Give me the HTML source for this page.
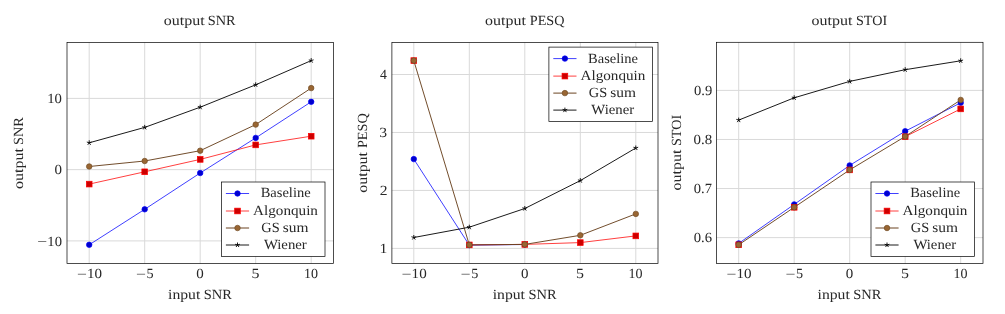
<!DOCTYPE html>
<html><head><meta charset="utf-8"><title>plots</title>
<style>
html,body{margin:0;padding:0;background:#fff;width:1005px;height:314px;overflow:hidden;}
svg{display:block;will-change:transform;font-family:"Liberation Serif", serif;}
text{fill:#282828;}
</style></head><body>
<svg width="1005" height="314" viewBox="0 0 1005 314" font-family='"Liberation Serif", serif' text-rendering="geometricPrecision" fill="#1a1a1a">
<rect width="1005" height="314" fill="#fff"/>
<line x1="89.20" y1="42.50" x2="89.20" y2="263.50" stroke="#d9d9d9" stroke-width="1"/>
<line x1="144.70" y1="42.50" x2="144.70" y2="263.50" stroke="#d9d9d9" stroke-width="1"/>
<line x1="200.20" y1="42.50" x2="200.20" y2="263.50" stroke="#d9d9d9" stroke-width="1"/>
<line x1="255.70" y1="42.50" x2="255.70" y2="263.50" stroke="#d9d9d9" stroke-width="1"/>
<line x1="311.20" y1="42.50" x2="311.20" y2="263.50" stroke="#d9d9d9" stroke-width="1"/>
<line x1="67.00" y1="98.40" x2="333.50" y2="98.40" stroke="#d9d9d9" stroke-width="1"/>
<line x1="67.00" y1="169.65" x2="333.50" y2="169.65" stroke="#d9d9d9" stroke-width="1"/>
<line x1="67.00" y1="240.90" x2="333.50" y2="240.90" stroke="#d9d9d9" stroke-width="1"/>
<polyline points="89.20,244.80 144.70,209.30 200.20,173.00 255.70,137.90 311.20,101.80" fill="none" stroke="#0000ff" stroke-width="0.75" stroke-linejoin="round"/>
<circle cx="89.20" cy="244.80" r="2.75" fill="#0000cc" stroke="#0000ff" stroke-width="0.7"/>
<circle cx="144.70" cy="209.30" r="2.75" fill="#0000cc" stroke="#0000ff" stroke-width="0.7"/>
<circle cx="200.20" cy="173.00" r="2.75" fill="#0000cc" stroke="#0000ff" stroke-width="0.7"/>
<circle cx="255.70" cy="137.90" r="2.75" fill="#0000cc" stroke="#0000ff" stroke-width="0.7"/>
<circle cx="311.20" cy="101.80" r="2.75" fill="#0000cc" stroke="#0000ff" stroke-width="0.7"/>
<polyline points="89.20,184.10 144.70,171.80 200.20,159.40 255.70,144.90 311.20,136.20" fill="none" stroke="#ff0000" stroke-width="0.75" stroke-linejoin="round"/>
<rect x="86.35" y="181.25" width="5.70" height="5.70" fill="#cc0000" stroke="#ff0000" stroke-width="0.7"/>
<rect x="141.85" y="168.95" width="5.70" height="5.70" fill="#cc0000" stroke="#ff0000" stroke-width="0.7"/>
<rect x="197.35" y="156.55" width="5.70" height="5.70" fill="#cc0000" stroke="#ff0000" stroke-width="0.7"/>
<rect x="252.85" y="142.05" width="5.70" height="5.70" fill="#cc0000" stroke="#ff0000" stroke-width="0.7"/>
<rect x="308.35" y="133.35" width="5.70" height="5.70" fill="#cc0000" stroke="#ff0000" stroke-width="0.7"/>
<polyline points="89.20,166.50 144.70,161.00 200.20,150.70 255.70,124.60 311.20,88.10" fill="none" stroke="#6a4321" stroke-width="0.95" stroke-linejoin="round"/>
<circle cx="89.20" cy="166.50" r="2.75" fill="#996633" stroke="#734d26" stroke-width="0.7"/>
<circle cx="144.70" cy="161.00" r="2.75" fill="#996633" stroke="#734d26" stroke-width="0.7"/>
<circle cx="200.20" cy="150.70" r="2.75" fill="#996633" stroke="#734d26" stroke-width="0.7"/>
<circle cx="255.70" cy="124.60" r="2.75" fill="#996633" stroke="#734d26" stroke-width="0.7"/>
<circle cx="311.20" cy="88.10" r="2.75" fill="#996633" stroke="#734d26" stroke-width="0.7"/>
<polyline points="89.20,142.80 144.70,127.40 200.20,107.20 255.70,84.80 311.20,60.60" fill="none" stroke="#000000" stroke-width="0.90" stroke-linejoin="round"/>
<path d="M89.20 142.80L89.20 140.30M89.20 142.80L86.82 142.03M89.20 142.80L87.73 144.82M89.20 142.80L90.67 144.82M89.20 142.80L91.58 142.03" stroke="#000000" stroke-width="0.9" fill="none"/>
<path d="M144.70 127.40L144.70 124.90M144.70 127.40L142.32 126.63M144.70 127.40L143.23 129.42M144.70 127.40L146.17 129.42M144.70 127.40L147.08 126.63" stroke="#000000" stroke-width="0.9" fill="none"/>
<path d="M200.20 107.20L200.20 104.70M200.20 107.20L197.82 106.43M200.20 107.20L198.73 109.22M200.20 107.20L201.67 109.22M200.20 107.20L202.58 106.43" stroke="#000000" stroke-width="0.9" fill="none"/>
<path d="M255.70 84.80L255.70 82.30M255.70 84.80L253.32 84.03M255.70 84.80L254.23 86.82M255.70 84.80L257.17 86.82M255.70 84.80L258.08 84.03" stroke="#000000" stroke-width="0.9" fill="none"/>
<path d="M311.20 60.60L311.20 58.10M311.20 60.60L308.82 59.83M311.20 60.60L309.73 62.62M311.20 60.60L312.67 62.62M311.20 60.60L313.58 59.83" stroke="#000000" stroke-width="0.9" fill="none"/>
<rect x="67.00" y="42.50" width="266.50" height="221.00" fill="none" stroke="#000" stroke-width="0.7"/>
<rect x="77.85" y="273.84" width="8.20" height="0.62" fill="#282828"/>
<text x="87.04" y="278.30" font-size="14.00" textLength="15.05" lengthAdjust="spacingAndGlyphs">10</text>
<rect x="136.90" y="273.84" width="8.20" height="0.62" fill="#282828"/>
<text x="146.58" y="278.30" font-size="14.00" textLength="7.08" lengthAdjust="spacingAndGlyphs">5</text>
<text x="196.36" y="278.30" font-size="14.00" textLength="7.48" lengthAdjust="spacingAndGlyphs">0</text>
<text x="251.43" y="278.30" font-size="14.00" textLength="7.95" lengthAdjust="spacingAndGlyphs">5</text>
<text x="303.88" y="278.30" font-size="14.00" textLength="14.03" lengthAdjust="spacingAndGlyphs">10</text>
<text x="47.22" y="103.20" font-size="14.00" textLength="14.71" lengthAdjust="spacingAndGlyphs">10</text>
<text x="54.46" y="174.45" font-size="14.00" textLength="7.48" lengthAdjust="spacingAndGlyphs">0</text>
<rect x="38.10" y="241.24" width="8.20" height="0.62" fill="#282828"/>
<text x="47.33" y="245.70" font-size="14.00" textLength="14.60" lengthAdjust="spacingAndGlyphs">10</text>
<text x="163.82" y="25.30" font-size="14.00" textLength="40.86" lengthAdjust="spacingAndGlyphs">output</text>
<text x="207.77" y="25.30" font-size="14.00" textLength="27.88" lengthAdjust="spacingAndGlyphs">SNR</text>
<text x="168.06" y="298.80" font-size="14.00" textLength="32.22" lengthAdjust="spacingAndGlyphs">input</text>
<text x="203.70" y="298.80" font-size="14.00" textLength="28.19" lengthAdjust="spacingAndGlyphs">SNR</text>
<text transform="translate(23.10 188.98) rotate(-90)" x="0" y="0" font-size="14.00" textLength="40.86" lengthAdjust="spacingAndGlyphs">output</text>
<text transform="translate(23.10 145.03) rotate(-90)" x="0" y="0" font-size="14.00" textLength="27.88" lengthAdjust="spacingAndGlyphs">SNR</text>
<rect x="221.50" y="182.00" width="103.50" height="74.50" fill="#fff" stroke="#000" stroke-width="0.7"/>
<line x1="225.90" y1="193.50" x2="249.10" y2="193.50" stroke="#0000ff" stroke-width="0.75"/>
<circle cx="237.50" cy="193.50" r="2.75" fill="#0000cc" stroke="#0000ff" stroke-width="0.7"/>
<text x="260.68" y="197.40" font-size="14.00" textLength="49.97" lengthAdjust="spacingAndGlyphs">Baseline</text>
<line x1="225.90" y1="211.00" x2="249.10" y2="211.00" stroke="#ff0000" stroke-width="0.75"/>
<rect x="234.65" y="208.15" width="5.70" height="5.70" fill="#cc0000" stroke="#ff0000" stroke-width="0.7"/>
<text x="253.09" y="214.90" font-size="14.00" textLength="64.87" lengthAdjust="spacingAndGlyphs">Algonquin</text>
<line x1="225.90" y1="228.00" x2="249.10" y2="228.00" stroke="#6a4321" stroke-width="1.00"/>
<circle cx="237.50" cy="228.00" r="2.75" fill="#996633" stroke="#734d26" stroke-width="0.7"/>
<text x="261.37" y="231.90" font-size="14.00" textLength="18.40" lengthAdjust="spacingAndGlyphs">GS</text>
<text x="282.83" y="231.90" font-size="14.00" textLength="25.70" lengthAdjust="spacingAndGlyphs">sum</text>
<line x1="225.90" y1="245.00" x2="249.10" y2="245.00" stroke="#000000" stroke-width="0.90"/>
<path d="M237.50 245.00L237.50 242.50M237.50 245.00L235.12 244.23M237.50 245.00L236.03 247.02M237.50 245.00L238.97 247.02M237.50 245.00L239.88 244.23" stroke="#000000" stroke-width="0.9" fill="none"/>
<text x="263.90" y="248.90" font-size="14.00" textLength="42.86" lengthAdjust="spacingAndGlyphs">Wiener</text>
<line x1="413.80" y1="42.60" x2="413.80" y2="263.50" stroke="#d9d9d9" stroke-width="1"/>
<line x1="469.30" y1="42.60" x2="469.30" y2="263.50" stroke="#d9d9d9" stroke-width="1"/>
<line x1="524.80" y1="42.60" x2="524.80" y2="263.50" stroke="#d9d9d9" stroke-width="1"/>
<line x1="580.30" y1="42.60" x2="580.30" y2="263.50" stroke="#d9d9d9" stroke-width="1"/>
<line x1="635.80" y1="42.60" x2="635.80" y2="263.50" stroke="#d9d9d9" stroke-width="1"/>
<line x1="391.90" y1="248.40" x2="658.00" y2="248.40" stroke="#d9d9d9" stroke-width="1"/>
<line x1="391.90" y1="190.43" x2="658.00" y2="190.43" stroke="#d9d9d9" stroke-width="1"/>
<line x1="391.90" y1="132.46" x2="658.00" y2="132.46" stroke="#d9d9d9" stroke-width="1"/>
<line x1="391.90" y1="74.49" x2="658.00" y2="74.49" stroke="#d9d9d9" stroke-width="1"/>
<polyline points="413.80,159.10 469.30,245.15 524.80,244.50" fill="none" stroke="#0000ff" stroke-width="0.75" stroke-linejoin="round"/>
<circle cx="413.80" cy="159.10" r="2.75" fill="#0000cc" stroke="#0000ff" stroke-width="0.7"/>
<circle cx="469.30" cy="245.15" r="2.75" fill="#0000cc" stroke="#0000ff" stroke-width="0.7"/>
<circle cx="524.80" cy="244.50" r="2.75" fill="#0000cc" stroke="#0000ff" stroke-width="0.7"/>
<polyline points="469.30,244.90 524.80,244.40 580.30,242.60 635.80,235.90" fill="none" stroke="#ff0000" stroke-width="0.75" stroke-linejoin="round"/>
<rect x="410.95" y="57.75" width="5.70" height="5.70" fill="#cc0000" stroke="#ff0000" stroke-width="0.7"/>
<rect x="466.45" y="242.05" width="5.70" height="5.70" fill="#cc0000" stroke="#ff0000" stroke-width="0.7"/>
<rect x="521.95" y="241.55" width="5.70" height="5.70" fill="#cc0000" stroke="#ff0000" stroke-width="0.7"/>
<rect x="577.45" y="239.75" width="5.70" height="5.70" fill="#cc0000" stroke="#ff0000" stroke-width="0.7"/>
<rect x="632.95" y="233.05" width="5.70" height="5.70" fill="#cc0000" stroke="#ff0000" stroke-width="0.7"/>
<polyline points="413.80,60.60 469.30,244.90 524.80,244.40 580.30,235.30 635.80,213.90" fill="none" stroke="#6a4321" stroke-width="0.95" stroke-linejoin="round"/>
<circle cx="413.80" cy="60.60" r="2.75" fill="#996633" stroke="#734d26" stroke-width="0.7"/>
<circle cx="469.30" cy="244.90" r="2.75" fill="#996633" stroke="#734d26" stroke-width="0.7"/>
<circle cx="524.80" cy="244.40" r="2.75" fill="#996633" stroke="#734d26" stroke-width="0.7"/>
<circle cx="580.30" cy="235.30" r="2.75" fill="#996633" stroke="#734d26" stroke-width="0.7"/>
<circle cx="635.80" cy="213.90" r="2.75" fill="#996633" stroke="#734d26" stroke-width="0.7"/>
<polyline points="413.80,237.50 469.30,227.20 524.80,208.50 580.30,180.60 635.80,148.00" fill="none" stroke="#000000" stroke-width="0.90" stroke-linejoin="round"/>
<path d="M413.80 237.50L413.80 235.00M413.80 237.50L411.42 236.73M413.80 237.50L412.33 239.52M413.80 237.50L415.27 239.52M413.80 237.50L416.18 236.73" stroke="#000000" stroke-width="0.9" fill="none"/>
<path d="M469.30 227.20L469.30 224.70M469.30 227.20L466.92 226.43M469.30 227.20L467.83 229.22M469.30 227.20L470.77 229.22M469.30 227.20L471.68 226.43" stroke="#000000" stroke-width="0.9" fill="none"/>
<path d="M524.80 208.50L524.80 206.00M524.80 208.50L522.42 207.73M524.80 208.50L523.33 210.52M524.80 208.50L526.27 210.52M524.80 208.50L527.18 207.73" stroke="#000000" stroke-width="0.9" fill="none"/>
<path d="M580.30 180.60L580.30 178.10M580.30 180.60L577.92 179.83M580.30 180.60L578.83 182.62M580.30 180.60L581.77 182.62M580.30 180.60L582.68 179.83" stroke="#000000" stroke-width="0.9" fill="none"/>
<path d="M635.80 148.00L635.80 145.50M635.80 148.00L633.42 147.23M635.80 148.00L634.33 150.02M635.80 148.00L637.27 150.02M635.80 148.00L638.18 147.23" stroke="#000000" stroke-width="0.9" fill="none"/>
<rect x="391.90" y="42.60" width="266.10" height="220.90" fill="none" stroke="#000" stroke-width="0.7"/>
<rect x="402.45" y="273.84" width="8.20" height="0.62" fill="#282828"/>
<text x="411.64" y="278.30" font-size="14.00" textLength="15.05" lengthAdjust="spacingAndGlyphs">10</text>
<rect x="461.50" y="273.84" width="8.20" height="0.62" fill="#282828"/>
<text x="471.18" y="278.30" font-size="14.00" textLength="7.08" lengthAdjust="spacingAndGlyphs">5</text>
<text x="520.96" y="278.30" font-size="14.00" textLength="7.48" lengthAdjust="spacingAndGlyphs">0</text>
<text x="576.03" y="278.30" font-size="14.00" textLength="7.95" lengthAdjust="spacingAndGlyphs">5</text>
<text x="628.48" y="278.30" font-size="14.00" textLength="14.03" lengthAdjust="spacingAndGlyphs">10</text>
<text x="379.63" y="253.20" font-size="14.00" textLength="7.89" lengthAdjust="spacingAndGlyphs">1</text>
<text x="379.72" y="195.23" font-size="14.00" textLength="7.78" lengthAdjust="spacingAndGlyphs">2</text>
<text x="379.30" y="137.26" font-size="14.00" textLength="7.87" lengthAdjust="spacingAndGlyphs">3</text>
<text x="379.90" y="79.29" font-size="14.00" textLength="6.90" lengthAdjust="spacingAndGlyphs">4</text>
<text x="485.12" y="25.30" font-size="14.00" textLength="40.76" lengthAdjust="spacingAndGlyphs">output</text>
<text x="529.79" y="25.30" font-size="14.00" textLength="34.76" lengthAdjust="spacingAndGlyphs">PESQ</text>
<text x="492.76" y="298.80" font-size="14.00" textLength="32.22" lengthAdjust="spacingAndGlyphs">input</text>
<text x="528.40" y="298.80" font-size="14.00" textLength="28.19" lengthAdjust="spacingAndGlyphs">SNR</text>
<text transform="translate(366.70 192.73) rotate(-90)" x="0" y="0" font-size="14.00" textLength="40.76" lengthAdjust="spacingAndGlyphs">output</text>
<text transform="translate(366.70 148.06) rotate(-90)" x="0" y="0" font-size="14.00" textLength="34.76" lengthAdjust="spacingAndGlyphs">PESQ</text>
<rect x="548.90" y="47.10" width="103.50" height="74.50" fill="#fff" stroke="#000" stroke-width="0.7"/>
<line x1="553.30" y1="58.60" x2="576.50" y2="58.60" stroke="#0000ff" stroke-width="0.75"/>
<circle cx="564.90" cy="58.60" r="2.75" fill="#0000cc" stroke="#0000ff" stroke-width="0.7"/>
<text x="588.08" y="62.50" font-size="14.00" textLength="49.97" lengthAdjust="spacingAndGlyphs">Baseline</text>
<line x1="553.30" y1="76.10" x2="576.50" y2="76.10" stroke="#ff0000" stroke-width="0.75"/>
<rect x="562.05" y="73.25" width="5.70" height="5.70" fill="#cc0000" stroke="#ff0000" stroke-width="0.7"/>
<text x="580.49" y="80.00" font-size="14.00" textLength="64.87" lengthAdjust="spacingAndGlyphs">Algonquin</text>
<line x1="553.30" y1="93.10" x2="576.50" y2="93.10" stroke="#6a4321" stroke-width="1.00"/>
<circle cx="564.90" cy="93.10" r="2.75" fill="#996633" stroke="#734d26" stroke-width="0.7"/>
<text x="588.77" y="97.00" font-size="14.00" textLength="18.40" lengthAdjust="spacingAndGlyphs">GS</text>
<text x="610.23" y="97.00" font-size="14.00" textLength="25.70" lengthAdjust="spacingAndGlyphs">sum</text>
<line x1="553.30" y1="110.10" x2="576.50" y2="110.10" stroke="#000000" stroke-width="0.90"/>
<path d="M564.90 110.10L564.90 107.60M564.90 110.10L562.52 109.33M564.90 110.10L563.43 112.12M564.90 110.10L566.37 112.12M564.90 110.10L567.28 109.33" stroke="#000000" stroke-width="0.9" fill="none"/>
<text x="591.30" y="114.00" font-size="14.00" textLength="42.86" lengthAdjust="spacingAndGlyphs">Wiener</text>
<line x1="738.70" y1="42.30" x2="738.70" y2="263.50" stroke="#d9d9d9" stroke-width="1"/>
<line x1="794.20" y1="42.30" x2="794.20" y2="263.50" stroke="#d9d9d9" stroke-width="1"/>
<line x1="849.70" y1="42.30" x2="849.70" y2="263.50" stroke="#d9d9d9" stroke-width="1"/>
<line x1="905.20" y1="42.30" x2="905.20" y2="263.50" stroke="#d9d9d9" stroke-width="1"/>
<line x1="960.70" y1="42.30" x2="960.70" y2="263.50" stroke="#d9d9d9" stroke-width="1"/>
<line x1="716.50" y1="237.61" x2="983.00" y2="237.61" stroke="#d9d9d9" stroke-width="1"/>
<line x1="716.50" y1="188.54" x2="983.00" y2="188.54" stroke="#d9d9d9" stroke-width="1"/>
<line x1="716.50" y1="139.47" x2="983.00" y2="139.47" stroke="#d9d9d9" stroke-width="1"/>
<line x1="716.50" y1="90.40" x2="983.00" y2="90.40" stroke="#d9d9d9" stroke-width="1"/>
<polyline points="738.70,243.40 794.20,204.40 849.70,165.40 905.20,131.20 960.70,102.80" fill="none" stroke="#0000ff" stroke-width="0.75" stroke-linejoin="round"/>
<circle cx="738.70" cy="243.40" r="2.75" fill="#0000cc" stroke="#0000ff" stroke-width="0.7"/>
<circle cx="794.20" cy="204.40" r="2.75" fill="#0000cc" stroke="#0000ff" stroke-width="0.7"/>
<circle cx="849.70" cy="165.40" r="2.75" fill="#0000cc" stroke="#0000ff" stroke-width="0.7"/>
<circle cx="905.20" cy="131.20" r="2.75" fill="#0000cc" stroke="#0000ff" stroke-width="0.7"/>
<circle cx="960.70" cy="102.80" r="2.75" fill="#0000cc" stroke="#0000ff" stroke-width="0.7"/>
<polyline points="905.20,136.70 960.70,108.90" fill="none" stroke="#ff0000" stroke-width="0.75" stroke-linejoin="round"/>
<rect x="735.85" y="241.95" width="5.70" height="5.70" fill="#cc0000" stroke="#ff0000" stroke-width="0.7"/>
<rect x="791.35" y="204.45" width="5.70" height="5.70" fill="#cc0000" stroke="#ff0000" stroke-width="0.7"/>
<rect x="846.85" y="167.05" width="5.70" height="5.70" fill="#cc0000" stroke="#ff0000" stroke-width="0.7"/>
<rect x="902.35" y="133.85" width="5.70" height="5.70" fill="#cc0000" stroke="#ff0000" stroke-width="0.7"/>
<rect x="957.85" y="106.05" width="5.70" height="5.70" fill="#cc0000" stroke="#ff0000" stroke-width="0.7"/>
<polyline points="738.70,244.80 794.20,207.30 849.70,169.90 905.20,136.50 960.70,99.90" fill="none" stroke="#6a4321" stroke-width="0.95" stroke-linejoin="round"/>
<circle cx="738.70" cy="244.80" r="2.75" fill="#996633" stroke="#734d26" stroke-width="0.7"/>
<circle cx="794.20" cy="207.30" r="2.75" fill="#996633" stroke="#734d26" stroke-width="0.7"/>
<circle cx="849.70" cy="169.90" r="2.75" fill="#996633" stroke="#734d26" stroke-width="0.7"/>
<circle cx="905.20" cy="136.50" r="2.75" fill="#996633" stroke="#734d26" stroke-width="0.7"/>
<circle cx="960.70" cy="99.90" r="2.75" fill="#996633" stroke="#734d26" stroke-width="0.7"/>
<polyline points="738.70,120.10 794.20,97.80 849.70,81.40 905.20,69.70 960.70,60.80" fill="none" stroke="#000000" stroke-width="0.90" stroke-linejoin="round"/>
<path d="M738.70 120.10L738.70 117.60M738.70 120.10L736.32 119.33M738.70 120.10L737.23 122.12M738.70 120.10L740.17 122.12M738.70 120.10L741.08 119.33" stroke="#000000" stroke-width="0.9" fill="none"/>
<path d="M794.20 97.80L794.20 95.30M794.20 97.80L791.82 97.03M794.20 97.80L792.73 99.82M794.20 97.80L795.67 99.82M794.20 97.80L796.58 97.03" stroke="#000000" stroke-width="0.9" fill="none"/>
<path d="M849.70 81.40L849.70 78.90M849.70 81.40L847.32 80.63M849.70 81.40L848.23 83.42M849.70 81.40L851.17 83.42M849.70 81.40L852.08 80.63" stroke="#000000" stroke-width="0.9" fill="none"/>
<path d="M905.20 69.70L905.20 67.20M905.20 69.70L902.82 68.93M905.20 69.70L903.73 71.72M905.20 69.70L906.67 71.72M905.20 69.70L907.58 68.93" stroke="#000000" stroke-width="0.9" fill="none"/>
<path d="M960.70 60.80L960.70 58.30M960.70 60.80L958.32 60.03M960.70 60.80L959.23 62.82M960.70 60.80L962.17 62.82M960.70 60.80L963.08 60.03" stroke="#000000" stroke-width="0.9" fill="none"/>
<rect x="716.50" y="42.30" width="266.50" height="221.20" fill="none" stroke="#000" stroke-width="0.7"/>
<rect x="727.35" y="273.84" width="8.20" height="0.62" fill="#282828"/>
<text x="736.54" y="278.30" font-size="14.00" textLength="15.05" lengthAdjust="spacingAndGlyphs">10</text>
<rect x="786.40" y="273.84" width="8.20" height="0.62" fill="#282828"/>
<text x="796.08" y="278.30" font-size="14.00" textLength="7.08" lengthAdjust="spacingAndGlyphs">5</text>
<text x="845.86" y="278.30" font-size="14.00" textLength="7.48" lengthAdjust="spacingAndGlyphs">0</text>
<text x="900.93" y="278.30" font-size="14.00" textLength="7.95" lengthAdjust="spacingAndGlyphs">5</text>
<text x="953.38" y="278.30" font-size="14.00" textLength="14.03" lengthAdjust="spacingAndGlyphs">10</text>
<text x="693.77" y="242.41" font-size="14.00" textLength="18.31" lengthAdjust="spacingAndGlyphs">0.6</text>
<text x="693.77" y="193.34" font-size="14.00" textLength="18.20" lengthAdjust="spacingAndGlyphs">0.7</text>
<text x="693.56" y="144.27" font-size="14.00" textLength="18.63" lengthAdjust="spacingAndGlyphs">0.8</text>
<text x="693.97" y="95.20" font-size="14.00" textLength="18.21" lengthAdjust="spacingAndGlyphs">0.9</text>
<text x="811.62" y="25.30" font-size="14.00" textLength="40.76" lengthAdjust="spacingAndGlyphs">output</text>
<text x="855.98" y="25.30" font-size="14.00" textLength="31.15" lengthAdjust="spacingAndGlyphs">STOI</text>
<text x="817.56" y="298.80" font-size="14.00" textLength="32.22" lengthAdjust="spacingAndGlyphs">input</text>
<text x="853.20" y="298.80" font-size="14.00" textLength="28.19" lengthAdjust="spacingAndGlyphs">SNR</text>
<text transform="translate(681.10 190.38) rotate(-90)" x="0" y="0" font-size="14.00" textLength="40.76" lengthAdjust="spacingAndGlyphs">output</text>
<text transform="translate(681.10 146.02) rotate(-90)" x="0" y="0" font-size="14.00" textLength="31.15" lengthAdjust="spacingAndGlyphs">STOI</text>
<rect x="871.00" y="182.00" width="103.50" height="74.50" fill="#fff" stroke="#000" stroke-width="0.7"/>
<line x1="875.40" y1="193.50" x2="898.60" y2="193.50" stroke="#0000ff" stroke-width="0.75"/>
<circle cx="887.00" cy="193.50" r="2.75" fill="#0000cc" stroke="#0000ff" stroke-width="0.7"/>
<text x="910.18" y="197.40" font-size="14.00" textLength="49.97" lengthAdjust="spacingAndGlyphs">Baseline</text>
<line x1="875.40" y1="211.00" x2="898.60" y2="211.00" stroke="#ff0000" stroke-width="0.75"/>
<rect x="884.15" y="208.15" width="5.70" height="5.70" fill="#cc0000" stroke="#ff0000" stroke-width="0.7"/>
<text x="902.59" y="214.90" font-size="14.00" textLength="64.87" lengthAdjust="spacingAndGlyphs">Algonquin</text>
<line x1="875.40" y1="228.00" x2="898.60" y2="228.00" stroke="#6a4321" stroke-width="1.00"/>
<circle cx="887.00" cy="228.00" r="2.75" fill="#996633" stroke="#734d26" stroke-width="0.7"/>
<text x="910.87" y="231.90" font-size="14.00" textLength="18.40" lengthAdjust="spacingAndGlyphs">GS</text>
<text x="932.33" y="231.90" font-size="14.00" textLength="25.70" lengthAdjust="spacingAndGlyphs">sum</text>
<line x1="875.40" y1="245.00" x2="898.60" y2="245.00" stroke="#000000" stroke-width="0.90"/>
<path d="M887.00 245.00L887.00 242.50M887.00 245.00L884.62 244.23M887.00 245.00L885.53 247.02M887.00 245.00L888.47 247.02M887.00 245.00L889.38 244.23" stroke="#000000" stroke-width="0.9" fill="none"/>
<text x="913.40" y="248.90" font-size="14.00" textLength="42.86" lengthAdjust="spacingAndGlyphs">Wiener</text>
</svg>
</body></html>
